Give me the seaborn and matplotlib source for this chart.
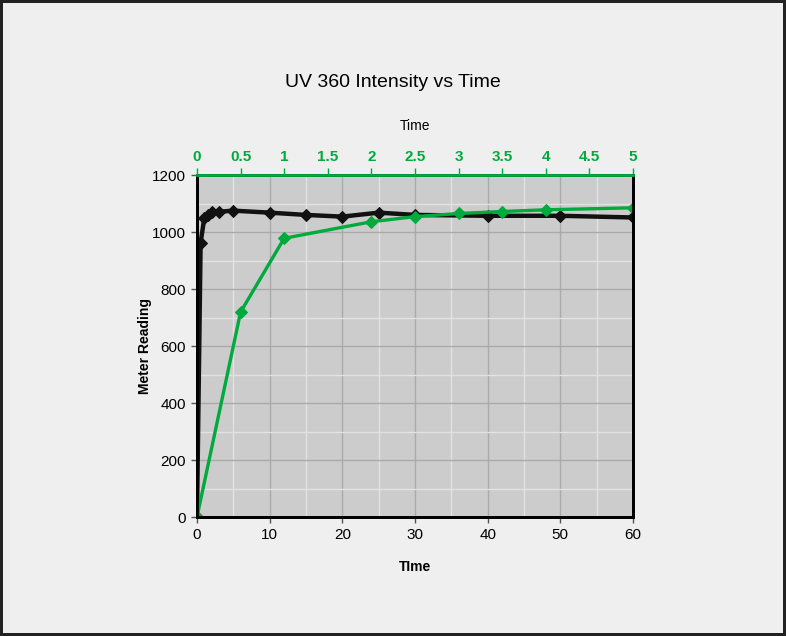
import pandas as pd
import matplotlib
matplotlib.use("Agg")
import matplotlib.pyplot as plt
from matplotlib.ticker import MultipleLocator
import seaborn as sns

# black series, bottom axis (0-60)
time_bottom = [0, 0.5, 1, 1.5, 2, 3, 5, 10, 15, 20, 25, 30, 40, 50, 60]
reading_bottom = [0, 962, 1048, 1060, 1071, 1071, 1075, 1068, 1060, 1054, 1068, 1060, 1057, 1057, 1051]

# green series, top axis (0-5)
time_top = [0, 0.5, 1, 2, 2.5, 3, 3.5, 4, 5]
reading_top = [0, 719, 978, 1036, 1054, 1065, 1072, 1078, 1085]

bottom_ticks = [0, 10, 20, 30, 40, 50, 60]
top_ticks = [0, 0.5, 1, 1.5, 2, 2.5, 3, 3.5, 4, 4.5, 5]
y_ticks = [0, 200, 400, 600, 800, 1000, 1200]

df_b = pd.DataFrame({"time": time_bottom, "reading": reading_bottom})
df_t = pd.DataFrame({"time": time_top, "reading": reading_top})

sns.set_style("white")
plt.rcParams["font.family"] = ["Liberation Sans", "DejaVu Sans"]
plt.rcParams["text.color"] = "black"
plt.rcParams["axes.labelcolor"] = "black"
plt.rcParams["xtick.color"] = "black"
plt.rcParams["ytick.color"] = "black"

green = "#00aa3c"

fig = plt.figure(figsize=(7.86, 6.36), dpi=100)
fig.patch.set_facecolor("#efefef")
fig.patch.set_edgecolor("#222222")
fig.patch.set_linewidth(3)

ax = fig.add_axes([0.2506, 0.1871, 0.5547, 0.5377])
ax.set_facecolor("#cccccc")
ax2 = ax.twiny()

sns.lineplot(data=df_b, x="time", y="reading", ax=ax, color="#111111", linewidth=3.2,
             marker="D", markersize=6.5, markeredgecolor="#111111")
sns.lineplot(data=df_t, x="time", y="reading", ax=ax2, color=green, linewidth=2.4,
             marker="D", markersize=6, markeredgecolor=green)

ax.set_xlim(0, 60)
ax.set_ylim(0, 1200)
ax2.set_xlim(0, 5)

ax.set_xticks(bottom_ticks)
ax.set_yticks(y_ticks)
ax.xaxis.set_minor_locator(MultipleLocator(5))
ax.yaxis.set_minor_locator(MultipleLocator(100))
ax.grid(which="major", color="#aaaaaa", linewidth=1)
ax.grid(which="minor", color="#e2e2e2", linewidth=1)
ax.set_axisbelow(True)

ax.tick_params(axis="both", which="major", direction="out", length=4, width=1,
               color="#555555", labelcolor="black", labelsize=11, pad=4,
               bottom=True, left=True)
ax.tick_params(axis="both", which="minor", length=0)

ax2.set_xticks(top_ticks)
ax2.set_xticklabels([f"{t:g}" for t in top_ticks])
ax2.tick_params(axis="x", direction="out", length=5, width=1, color=green,
                labelcolor=green, labelsize=11, pad=3, top=True)
for lbl in ax2.get_xticklabels():
    lbl.set_fontweight("bold")
ax2.grid(False)
ax2.set_ylabel("")

for side in ["left", "right", "bottom", "top"]:
    ax.spines[side].set_color("black")
    ax.spines[side].set_linewidth(2)
    ax2.spines[side].set_color("black")
    ax2.spines[side].set_linewidth(2)
ax2.spines["top"].set_color(green)

ax.set_xlabel("TIme", fontsize=10, fontweight="bold", labelpad=13)
ax.set_ylabel("Meter Reading", fontsize=10, fontweight="bold", labelpad=0)
ax2.set_xlabel("Time", fontsize=10, labelpad=14)

fig.text(0.5, 0.871, "UV 360 Intensity vs Time", ha="center", va="center",
         fontsize=14, color="black")

fig.savefig("out.png", dpi=100, facecolor=fig.get_facecolor(), edgecolor=fig.get_edgecolor())
